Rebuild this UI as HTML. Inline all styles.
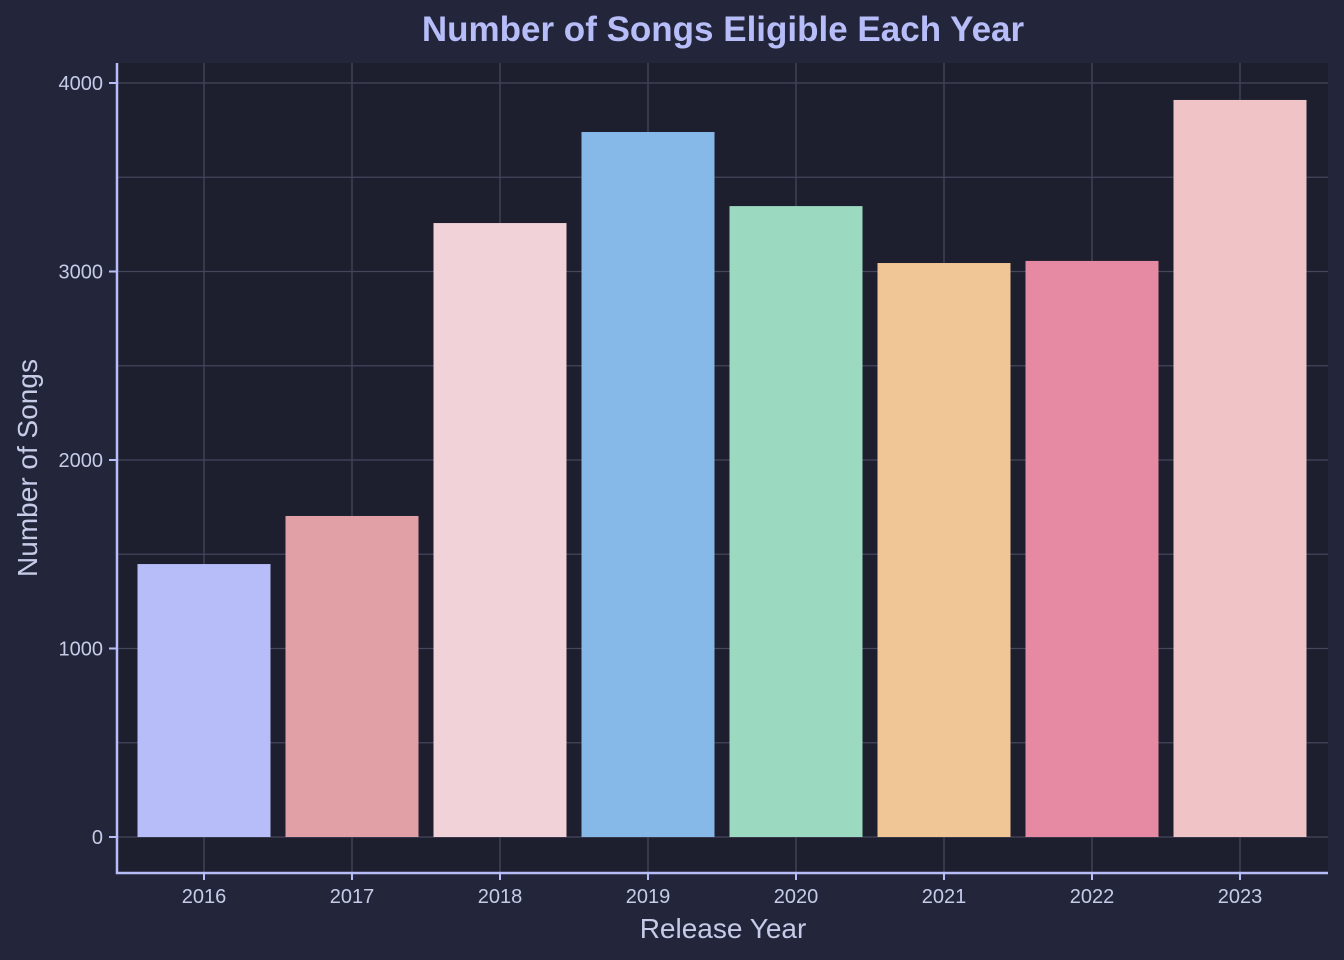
<!DOCTYPE html>
<html><head><meta charset="utf-8"><style>
html,body{margin:0;padding:0;background:#23263a;overflow:hidden;width:1344px;height:960px;}
svg{display:block;}
svg text{font-family:"Liberation Sans",sans-serif;}
</style></head><body>
<svg id="chart" width="1344" height="960">
<rect width="1344" height="960" fill="#23263a"/>
<rect x="117" y="63" width="1211" height="810" fill="#1e1f2e"/>
<g id="grid"></g><g id="bars"></g><g id="axes"></g>
<text x="723" y="41" text-anchor="middle" font-size="35" font-weight="bold" fill="#b7bdf8">Number of Songs Eligible Each Year</text>
<text x="723" y="938" text-anchor="middle" font-size="28" fill="#c6cbe8">Release Year</text>
<text transform="translate(37,468) rotate(-90)" text-anchor="middle" font-size="28" fill="#c6cbe8">Number of Songs</text>
</svg>
<script>
const categories=["2016","2017","2018","2019","2020","2021","2022","2023"];
const values=[1448,1703,3257,3740,3347,3045,3056,3910];
const colors=["#b7bdf8","#e0a0a6","#f2d2d9","#86b9e8","#9bd9c1","#f0c696","#e68aa3","#f0c4c6"];
const yTicks=[0,1000,2000,3000,4000];
const NS="http://www.w3.org/2000/svg";
const y=v=>837-v*0.1885;
const x=i=>204+i*148;
const bw=133;
function mk(tag,attrs,parent){const e=document.createElementNS(NS,tag);for(const k in attrs)e.setAttribute(k,attrs[k]);document.getElementById(parent).appendChild(e);return e;}
for(let v=0;v<=4200;v+=500){if(y(v)<63)break;
 const g=mk('line',{x1:117,x2:1328,y1:y(v),y2:y(v),stroke:'#44465c','stroke-width':1.3},'grid');
 
 }
categories.forEach((c,i)=>{
 const g=mk('line',{x1:x(i),x2:x(i),y1:63,y2:873,stroke:'#44465c','stroke-width':1.3},'grid');
 
 
 const b=mk('rect',{x:x(i)-bw/2,y:y(values[i]),width:bw,height:y(0)-y(values[i]),fill:colors[i]},'bars');
 
 
 const t=mk('line',{x1:x(i),x2:x(i),y1:873,y2:880,stroke:'#b7bdf8','stroke-width':2},'axes');
 
 
 const l=mk('text',{x:x(i),y:903,'text-anchor':'middle','font-size':20,fill:'#c6cbe8'},'axes');
 l.textContent=c;
 
 
});
yTicks.forEach(v=>{
 const t=mk('line',{x1:109,x2:117,y1:y(v),y2:y(v),stroke:'#b7bdf8','stroke-width':2},'axes');
 
 
 const l=mk('text',{x:103,y:y(v)+7,'text-anchor':'end','font-size':20,fill:'#c6cbe8'},'axes');
 l.textContent=v;
 
 
});
const ax=mk('path',{d:'M117,63 V873 H1328',fill:'none',stroke:'#b7bdf8','stroke-width':2.5},'axes');


</script>
</body></html>
